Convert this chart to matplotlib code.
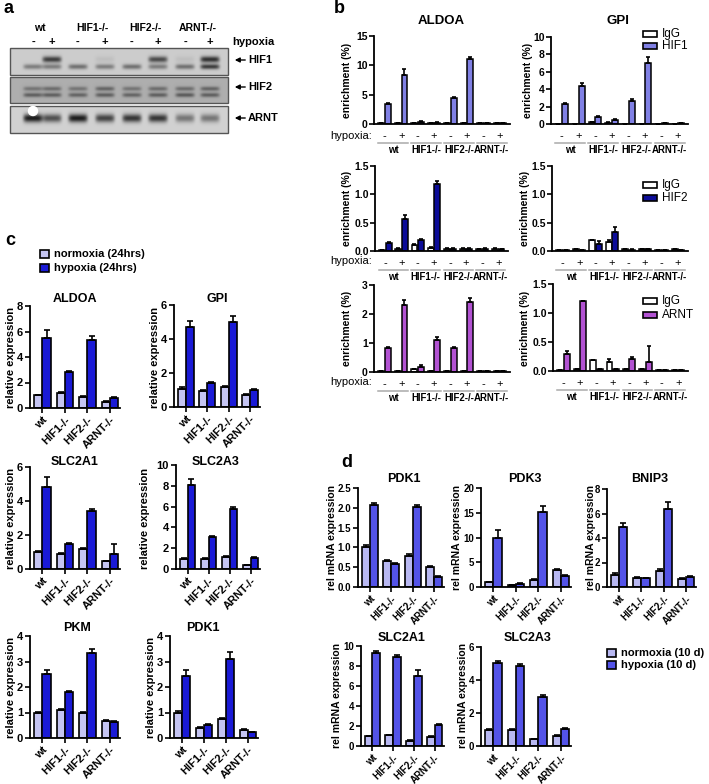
import matplotlib.pyplot as plt
import numpy as np
from matplotlib import transforms
from matplotlib.patches import Rectangle, Circle

plt.rcParams['font.family'] = ['Liberation Sans', 'DejaVu Sans']
plt.rcParams['font.weight'] = 'bold'
plt.rcParams['axes.linewidth'] = 1.3

# ---------------- data ----------------
genotypes = ['wt', 'HIF1-/-', 'HIF2-/-', 'ARNT-/-']
signs = ['-', '+'] * 4

# a: western blot band strength per lane (wt-, wt+, HIF1-, HIF1+, HIF2-, HIF2+, ARNT-, ARNT+)
blot_hif1_upper = [0.0, 0.55, 0.0, 0.05, 0.0, 0.5, 0.05, 0.6]
blot_hif1_lower = [0.3, 0.3, 0.35, 0.3, 0.35, 0.3, 0.35, 0.55]
blot_hif2_upper = [0.22, 0.25, 0.22, 0.28, 0.22, 0.25, 0.25, 0.28]
blot_hif2_lower = [0.3, 0.3, 0.28, 0.3, 0.28, 0.3, 0.32, 0.3]
blot_arnt = [0.7, 0.5, 0.7, 0.55, 0.6, 0.6, 0.35, 0.35]

# b: ChIP enrichment (%) per condition (genotype x -/+ hypoxia)
aldoa_igg_1 = [0.1, 0.1, 0.15, 0.1, 0.1, 0.1, 0.1, 0.1]
aldoa_igg_1_err = [0, 0, 0.03, 0, 0, 0, 0, 0]
aldoa_hif1 = [3.4, 8.3, 0.4, 0.25, 4.4, 11.1, 0.2, 0.2]
aldoa_hif1_err = [0.15, 1.1, 0.1, 0.05, 0.15, 0.4, 0.05, 0.05]
gpi_igg_1 = [0.05, 0.05, 0.2, 0.15, 0.05, 0.05, 0.05, 0.05]
gpi_igg_1_err = [0, 0, 0.03, 0.05, 0, 0, 0, 0]
gpi_hif1 = [2.3, 4.4, 0.85, 0.45, 2.7, 7.0, 0.12, 0.08]
gpi_hif1_err = [0.12, 0.35, 0.05, 0.08, 0.12, 0.75, 0.02, 0.02]

aldoa_igg_2 = [0.02, 0.04, 0.1, 0.06, 0.04, 0.04, 0.03, 0.04]
aldoa_igg_2_err = [0, 0.01, 0.03, 0.01, 0.01, 0.01, 0.01, 0.01]
aldoa_hif2 = [0.15, 0.57, 0.19, 1.18, 0.04, 0.04, 0.04, 0.03]
aldoa_hif2_err = [0.01, 0.06, 0.03, 0.05, 0.01, 0.01, 0.01, 0.01]
gpi_igg_2 = [0.02, 0.03, 0.2, 0.16, 0.03, 0.03, 0.02, 0.03]
gpi_igg_2_err = [0, 0, 0, 0.04, 0, 0, 0, 0]
gpi_hif2 = [0.01, 0.01, 0.13, 0.33, 0.02, 0.03, 0.01, 0.01]
gpi_hif2_err = [0, 0, 0.05, 0.1, 0.01, 0.01, 0, 0]

aldoa_igg_3 = [0.02, 0.03, 0.1, 0.05, 0.03, 0.04, 0.02, 0.03]
aldoa_igg_3_err = [0, 0, 0.02, 0, 0, 0, 0, 0]
aldoa_arnt = [0.82, 2.32, 0.18, 1.1, 0.82, 2.4, 0.02, 0.02]
aldoa_arnt_err = [0.03, 0.18, 0.05, 0.1, 0.04, 0.15, 0, 0]
gpi_igg_3 = [0.02, 0.03, 0.19, 0.16, 0.03, 0.03, 0.02, 0.02]
gpi_igg_3_err = [0, 0, 0, 0.04, 0, 0, 0, 0]
gpi_arnt = [0.3, 1.2, 0.03, 0.03, 0.2, 0.15, 0.01, 0.01]
gpi_arnt_err = [0.04, 0, 0.01, 0.01, 0.05, 0.28, 0, 0]

# c: relative expression, normoxia / hypoxia 24 hrs
c_aldoa_n = [1.0, 1.2, 0.85, 0.5];   c_aldoa_n_err = [0.05, 0.08, 0.08, 0.05]
c_aldoa_h = [5.5, 2.8, 5.3, 0.8];    c_aldoa_h_err = [0.6, 0.08, 0.35, 0.05]
c_gpi_n = [1.05, 0.95, 1.15, 0.7];   c_gpi_n_err = [0.1, 0.05, 0.07, 0.05]
c_gpi_h = [4.7, 1.4, 5.0, 1.0];      c_gpi_h_err = [0.35, 0.07, 0.35, 0.07]
c_slc2a1_n = [1.0, 0.9, 1.2, 0.45];  c_slc2a1_n_err = [0.04, 0.05, 0.05, 0.04]
c_slc2a1_h = [4.8, 1.5, 3.4, 0.9];   c_slc2a1_h_err = [0.6, 0.05, 0.12, 0.55]
c_slc2a3_n = [1.0, 1.0, 1.2, 0.35];  c_slc2a3_n_err = [0.05, 0.05, 0.06, 0.03]
c_slc2a3_h = [8.1, 3.1, 5.8, 1.1];   c_slc2a3_h_err = [0.55, 0.1, 0.2, 0.1]
c_pkm_n = [1.0, 1.08, 0.97, 0.67];   c_pkm_n_err = [0.03, 0.06, 0.05, 0.03]
c_pkm_h = [2.5, 1.8, 3.35, 0.63];    c_pkm_h_err = [0.18, 0.06, 0.15, 0.03]
c_pdk1_n = [1.0, 0.4, 0.75, 0.32];   c_pdk1_n_err = [0.05, 0.04, 0.05, 0.03]
c_pdk1_h = [2.45, 0.5, 3.1, 0.22];   c_pdk1_h_err = [0.2, 0.04, 0.27, 0.02]

# d: rel mRNA expression, normoxia / hypoxia 10 d
d_pdk1_n = [1.02, 0.65, 0.78, 0.51];  d_pdk1_n_err = [0.04, 0.02, 0.06, 0.02]
d_pdk1_h = [2.06, 0.58, 2.01, 0.26];  d_pdk1_h_err = [0.05, 0.02, 0.06, 0.01]
d_pdk3_n = [1.0, 0.4, 1.4, 3.4];      d_pdk3_n_err = [0.1, 0.05, 0.3, 0.15]
d_pdk3_h = [10.0, 0.7, 15.1, 2.2];    d_pdk3_h_err = [1.5, 0.1, 1.3, 0.15]
d_bnip3_n = [1.0, 0.75, 1.3, 0.65];   d_bnip3_n_err = [0.12, 0.04, 0.15, 0.08]
d_bnip3_h = [4.9, 0.72, 6.35, 0.85];  d_bnip3_h_err = [0.3, 0.02, 0.55, 0.05]
d_slc2a1_n = [1.0, 1.1, 0.55, 0.95];  d_slc2a1_n_err = [0.05, 0.05, 0.05, 0.05]
d_slc2a1_h = [9.35, 8.9, 7.0, 2.1];   d_slc2a1_h_err = [0.12, 0.25, 0.6, 0.07]
d_slc2a3_n = [1.0, 1.0, 0.42, 0.62];  d_slc2a3_n_err = [0.05, 0.04, 0.02, 0.04]
d_slc2a3_h = [5.03, 4.85, 3.0, 1.03]; d_slc2a3_h_err = [0.15, 0.15, 0.12, 0.04]

# colours
col_hif1 = '#8080e4'
col_hif2 = '#0c0c98'
col_arnt = '#b252d2'
col_c_norm = '#c4c4f2'
col_c_hyp = '#1a1ad6'
col_d_norm = '#b8b8f2'
col_d_hyp = '#5353e8'

# ---------------- figure ----------------
W, H = 709, 784
fig = plt.figure(figsize=(W / 100, H / 100), dpi=100)


def box(x0, y0, x1, y1):
    return fig.add_axes([x0 / W, 1 - y1 / H, (x1 - x0) / W, (y1 - y0) / H])


ov = box(0, 0, W, H)
ov.axis('off')


def txt(x, y, s, size=8, weight='bold', ha='center', va='center', **kw):
    ov.text(x, y, s, fontsize=size, fontweight=weight, ha=ha, va=va, **kw)


def legend_item(x, y, color, label, w=14, h=6, size=8.5, weight='normal'):
    ov.add_patch(Rectangle((x, y - h / 2), w, h, facecolor=color, edgecolor='black', lw=1.2))
    txt(x + w + 5, y, label, size=size, weight=weight, ha='left')


# ---- panel a: blot ----
lane_x = np.array([33, 52, 78, 105, 132, 158, 185, 210])


def strip(y0, y1, bg, bands):
    h = int(y1 - y0)
    yy = np.linspace(0, 1, h)[:, None]
    xx = np.arange(218)[None, :] + 10.5
    img = np.full((h, 218), bg, float)
    for pos, thick, depths in bands:
        for cx, d in zip(lane_x, depths):
            img -= d * np.exp(-((xx - cx) / 9.5) ** 6) * np.exp(-((yy - pos) / thick) ** 2)
    ov.imshow(np.clip(img, 0, 1), cmap='gray', vmin=0, vmax=1, extent=(10, 228, y1, y0),
              aspect='auto', interpolation='bilinear')
    ov.add_patch(Rectangle((10, y0), 218, y1 - y0, fill=False, edgecolor='#555555', lw=1))


strip(48, 75, 0.8, [(0.42, 0.12, blot_hif1_upper), (0.7, 0.1, blot_hif1_lower)])
strip(77, 103, 0.68, [(0.45, 0.09, blot_hif2_upper), (0.7, 0.09, blot_hif2_lower)])
strip(106, 133, 0.82, [(0.45, 0.16, blot_arnt)])
ov.add_patch(Circle((33, 111), 4.5, color='white'))

for gx, name in zip([40, 92, 145, 198], genotypes):
    txt(gx, 28, name, size=7.5)
for lx, s in zip(lane_x, signs):
    txt(lx, 42, s, size=8)
txt(232, 42, 'hypoxia', size=8, ha='left')
for yy, name in [(60, 'HIF1'), (87, 'HIF2'), (118, 'ARNT')]:
    ov.annotate('', xy=(232, yy), xytext=(248, yy),
                arrowprops=dict(arrowstyle='-|>', color='black', lw=1, mutation_scale=7))
    txt(248, yy, name, size=8, ha='left')

ov.set_xlim(0, W)
ov.set_ylim(H, 0)


# ---- panel b: ChIP ----
def chip(x0, y0, x1, y1, igg, igg_err, ab, ab_err, color, ymax, yticks):
    ax = box(x0, y0, x1, y1)
    ax.set_facecolor('none')
    x = np.arange(8)
    ek = dict(ecolor='black', elinewidth=1.2, capsize=1.5, capthick=1.2)
    ax.bar(x - 0.2, igg, 0.36, color='white', edgecolor='black', linewidth=1.1,
           yerr=[np.zeros(8), igg_err], error_kw=ek)
    ax.bar(x + 0.2, ab, 0.36, color=color, edgecolor='black', linewidth=1.1,
           yerr=[np.zeros(8), ab_err], error_kw=ek)
    ax.set_xlim(-0.65, 7.6)
    ax.set_ylim(0, ymax)
    ax.set_yticks(yticks)
    ax.set_xticks([])
    ax.spines[['top', 'right']].set_visible(False)
    ax.tick_params(axis='y', length=3.5, width=1.2, labelsize=7.5, pad=1)
    base = ax.get_xaxis_transform()

    def off(dy):
        return transforms.offset_copy(base, fig=fig, x=0, y=-dy, units='dots')

    for i, s in enumerate(signs):
        ax.text(i, 0, s, transform=off(12), ha='center', va='center', fontsize=8, fontweight='normal')
    for g, name in enumerate(genotypes):
        ax.plot([2 * g - 0.4, 2 * g + 1.4], [0, 0], transform=off(19), color='#aaaaaa', lw=1.1, clip_on=False)
        ax.text(2 * g + 0.5, 0, name, transform=off(26), ha='center', va='center', fontsize=6.9)
    return ax


chip(374, 36, 510, 124, aldoa_igg_1, aldoa_igg_1_err, aldoa_hif1, aldoa_hif1_err, col_hif1, 15, [0, 5, 10, 15])
chip(551, 37, 688, 124, gpi_igg_1, gpi_igg_1_err, gpi_hif1, gpi_hif1_err, col_hif1, 10, [0, 2, 4, 6, 8, 10])
chip(375, 166, 508, 251, aldoa_igg_2, aldoa_igg_2_err, aldoa_hif2, aldoa_hif2_err, col_hif2, 1.5, [0, 0.5, 1.0, 1.5])
chip(552, 166, 688, 251, gpi_igg_2, gpi_igg_2_err, gpi_hif2, gpi_hif2_err, col_hif2, 1.5, [0, 0.5, 1.0, 1.5])
chip(374, 285, 510, 372, aldoa_igg_3, aldoa_igg_3_err, aldoa_arnt, aldoa_arnt_err, col_arnt, 3, [0, 1, 2, 3])
chip(553, 284, 688, 371, gpi_igg_3, gpi_igg_3_err, gpi_arnt, gpi_arnt_err, col_arnt, 1.5, [0, 0.5, 1.0, 1.5])

txt(441, 21, 'ALDOA', size=9.5)
txt(618, 21, 'GPI', size=9.5)
for cy, py, rx in [(80, 136, 528), (208, 261, 525), (328, 382, 525)]:
    txt(347, cy, 'enrichment (%)', size=7.5, rotation=90)
    txt(rx, cy, 'enrichment (%)', size=7.5, rotation=90)
    txt(330, py, 'hypoxia:', size=8, weight='normal', ha='left')
legend_item(643, 34, 'white', 'IgG')
legend_item(643, 46, col_hif1, 'HIF1')
legend_item(643, 185, 'white', 'IgG')
legend_item(643, 198, col_hif2, 'HIF2')
legend_item(643, 301, 'white', 'IgG')
legend_item(643, 315, col_arnt, 'ARNT')


# ---- panels c and d: expression ----
def expr(x0, y0, x1, y1, norm, norm_err, hyp, hyp_err, cn, ch, ymax, yticks, fs):
    ax = box(x0, y0, x1, y1)
    ax.set_facecolor('none')
    x = np.arange(4)
    w = 0.37
    ek = dict(ecolor='black', elinewidth=1.2, capsize=2, capthick=1.2)
    ax.bar(x - w / 2, norm, w, color=cn, edgecolor='black', linewidth=1.2,
           yerr=[np.zeros(4), norm_err], error_kw=ek)
    ax.bar(x + w / 2, hyp, w, color=ch, edgecolor='black', linewidth=1.2,
           yerr=[np.zeros(4), hyp_err], error_kw=ek)
    ax.set_xlim(-0.55, 3.45)
    ax.set_ylim(0, ymax)
    ax.set_yticks(yticks)
    ax.set_xticks(x)
    ax.set_xticklabels(genotypes, rotation=45, ha='right', rotation_mode='anchor')
    ax.spines[['top', 'right']].set_visible(False)
    ax.tick_params(length=3.5, width=1.2, labelsize=fs, pad=1.5)
    return ax


expr(30, 306, 120, 408, c_aldoa_n, c_aldoa_n_err, c_aldoa_h, c_aldoa_h_err, col_c_norm, col_c_hyp, 8, [0, 2, 4, 6, 8], 8)
expr(174, 305, 260, 407, c_gpi_n, c_gpi_n_err, c_gpi_h, c_gpi_h_err, col_c_norm, col_c_hyp, 6, [0, 2, 4, 6], 8)
expr(30, 467, 120, 569, c_slc2a1_n, c_slc2a1_n_err, c_slc2a1_h, c_slc2a1_h_err, col_c_norm, col_c_hyp, 6, [0, 2, 4, 6], 8)
expr(176, 465, 260, 569, c_slc2a3_n, c_slc2a3_n_err, c_slc2a3_h, c_slc2a3_h_err, col_c_norm, col_c_hyp, 10, [0, 2, 4, 6, 8, 10], 8)
expr(30, 636, 120, 738, c_pkm_n, c_pkm_n_err, c_pkm_h, c_pkm_h_err, col_c_norm, col_c_hyp, 4, [0, 1, 2, 3, 4], 8)
expr(170, 636, 258, 738, c_pdk1_n, c_pdk1_n_err, c_pdk1_h, c_pdk1_h_err, col_c_norm, col_c_hyp, 4, [0, 1, 2, 3, 4], 8)

txt(5, 240, 'c', size=13, ha='left')
legend_item(40, 254, col_c_norm, 'normoxia (24hrs)', w=9, h=8, size=8, weight='bold')
legend_item(40, 268, col_c_hyp, 'hypoxia (24hrs)', w=9, h=8, size=8, weight='bold')
for (tx, ty, name) in [(75, 299, 'ALDOA'), (217, 299, 'GPI'), (75, 462, 'SLC2A1'),
                       (216, 462, 'SLC2A3'), (77, 628, 'PKM'), (203, 628, 'PDK1')]:
    txt(tx, ty, name, size=9)
for lx, rx, cy in [(11, 155, 357), (11, 145, 518), (11, 151, 687)]:
    txt(lx, cy, 'relative expression', size=8, rotation=90)
    txt(rx, cy, 'relative expression', size=8, rotation=90)

expr(358, 488, 444, 587, d_pdk1_n, d_pdk1_n_err, d_pdk1_h, d_pdk1_h_err, col_d_norm, col_d_hyp, 2.5, [0, 0.5, 1.0, 1.5, 2.0, 2.5], 7)
expr(481, 488, 571, 587, d_pdk3_n, d_pdk3_n_err, d_pdk3_h, d_pdk3_h_err, col_d_norm, col_d_hyp, 20, [0, 5, 10, 15, 20], 7)
expr(607, 489, 696, 587, d_bnip3_n, d_bnip3_n_err, d_bnip3_h, d_bnip3_h_err, col_d_norm, col_d_hyp, 8, [0, 2, 4, 6, 8], 7)
expr(361, 646, 444, 746, d_slc2a1_n, d_slc2a1_n_err, d_slc2a1_h, d_slc2a1_h_err, col_d_norm, col_d_hyp, 10, [0, 2, 4, 6, 8, 10], 7)
expr(481, 647, 571, 746, d_slc2a3_n, d_slc2a3_n_err, d_slc2a3_h, d_slc2a3_h_err, col_d_norm, col_d_hyp, 6, [0, 2, 4, 6], 7)

txt(341, 462, 'd', size=13, ha='left')
for (tx, ty, name) in [(404, 479, 'PDK1'), (525, 479, 'PDK3'), (650, 479, 'BNIP3'),
                       (402, 638, 'SLC2A1'), (528, 638, 'SLC2A3')]:
    txt(tx, ty, name, size=9)
for cx, cy in [(332, 537), (457, 537), (591, 537), (337, 696), (463, 696)]:
    txt(cx, cy, 'rel mRNA expression', size=7.5, rotation=90)
legend_item(607, 653, col_d_norm, 'normoxia (10 d)', w=9, h=8, size=8, weight='bold')
legend_item(607, 665, col_d_hyp, 'hypoxia (10 d)', w=9, h=8, size=8, weight='bold')

txt(3, 8, 'a', size=13, ha='left')
txt(334, 8, 'b', size=13, ha='left')

fig.savefig('out.png', dpi=100)
